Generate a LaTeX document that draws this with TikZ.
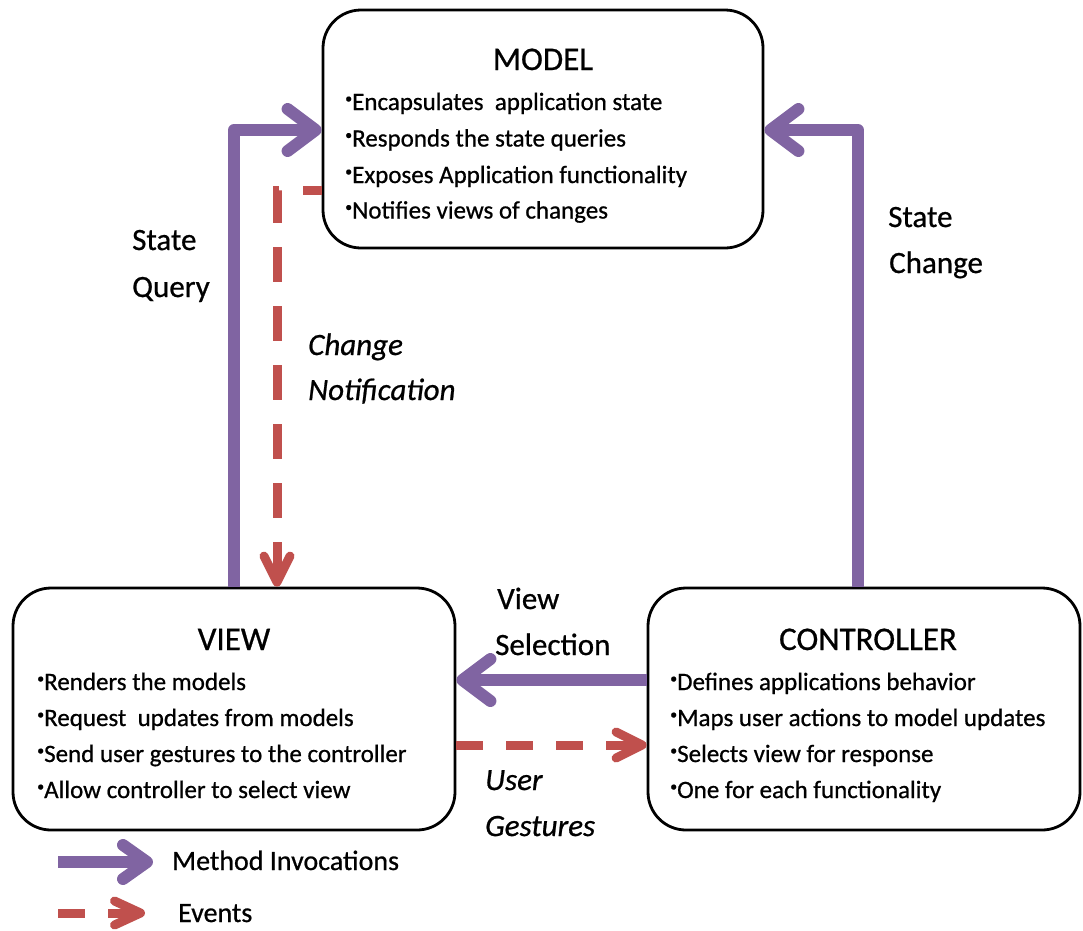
\documentclass[tikz,border=0pt]{standalone}
\usepackage{fontspec}
\setmainfont{Carlito}[FakeBold=0.7]
\usetikzlibrary{arrows.meta}

\definecolor{invoke}{HTML}{8064A2}
\definecolor{event}{HTML}{C0504D}

% small raised dot used in front of every list entry
\newcommand{\itemdot}{\raisebox{7pt}{\fontsize{14pt}{14pt}\selectfont •}}

\tikzset{
  box/.style={draw=black, line width=2.8pt, rounded corners=38pt, fill=white},
  boxtitle/.style={anchor=base, inner sep=0pt, font=\fontsize{33pt}{40pt}\selectfont},
  entry/.style={anchor=base west, inner sep=0pt, font=\fontsize{25pt}{30pt}\selectfont},
  lbl/.style={anchor=base west, inner sep=0pt, font=\fontsize{31pt}{38pt}\selectfont},
  ilbl/.style={lbl, font=\fontsize{31pt}{38pt}\selectfont\itshape},
  legendtext/.style={anchor=base west, inner sep=0pt, font=\fontsize{28pt}{34pt}\selectfont},
  method/.style={draw=invoke, line width=12pt, line join=round,
    -{Straight Barb[length=28pt, width=42pt, round]}},
  event/.style={draw=event, line width=9pt, dash pattern=on 35pt off 24pt,
    -{Straight Barb[length=26pt, width=26pt, round]}},
}

\begin{document}
\begin{tikzpicture}[x=1pt, y=-1pt]
\useasboundingbox (0,0) rectangle (1083,930);

% ---------- the three components ----------
\node[box, minimum width=440pt, minimum height=238pt] (model) at (543,129) {};
\node[box, minimum width=442pt, minimum height=242pt] (view)  at (234,709) {};
\node[box, minimum width=432pt, minimum height=242pt] (ctrl)  at (864,709) {};

\node[boxtitle] (modelT) at (543,70) {MODEL};
\node[entry] (m1) at (345,110) {\itemdot Encapsulates\ \ application state};
\node[entry] (m2) at (345,146.5) {\itemdot Responds the state queries};
\node[entry] (m3) at (345,183) {\itemdot Exposes Application functionality};
\node[entry] (m4) at (345,218.5) {\itemdot Notifies views of changes};

\node[boxtitle] (viewT) at (234,650) {VIEW};
\node[entry] (v1) at (37,690) {\itemdot Renders the models};
\node[entry] (v2) at (37,726) {\itemdot Request\ \ updates from models};
\node[entry] (v3) at (37,762) {\itemdot Send user gestures to the controller};
\node[entry] (v4) at (37,798) {\itemdot Allow controller to select view};

\node[boxtitle] (ctrlT) at (868,650) {CONTROLLER};
\node[entry] (c1) at (670,690) {\itemdot Defines applications behavior};
\node[entry] (c2) at (670,726) {\itemdot Maps user actions to model updates};
\node[entry] (c3) at (670,762) {\itemdot Selects view for response};
\node[entry] (c4) at (670,798) {\itemdot One for each functionality};

% ---------- connectors ----------
\coordinate (sqBend) at (234,130);
\coordinate (scBend) at (858,130);
\coordinate (cnBend) at (277,190);
\coordinate (vsLevel) at (0,680);
\coordinate (ugLevel) at (0,745);

\draw[method] (sqBend |- view.north) -- (sqBend) -- (sqBend -| model.west);
\draw[method] (scBend |- ctrl.north) -- (scBend) -- (scBend -| model.east);
\draw[event, dash phase=16pt] (cnBend -| model.west) -- (cnBend) -- (cnBend |- view.north);
\draw[method] (vsLevel -| ctrl.west) -- (vsLevel -| view.east);
\draw[event, dash pattern=on 27pt off 23pt] (ugLevel -| view.east) -- (ugLevel -| ctrl.west);

% ---------- connector labels ----------
\node[lbl] (sqA) at (132,250) {State};
\node[lbl] (sqB) at (132,297) {Query};
\node[lbl] (scA) at (888,227) {State};
\node[lbl] (scB) at (889,273) {Change};
\node[ilbl] (cnA) at (308,355) {Change};
\node[ilbl] (cnB) at (308,400) {Notification};
\node[lbl] (vsA) at (497,609) {View};
\node[lbl] (vsB) at (495,655) {Selection};
\node[ilbl] (ugA) at (485,790) {User};
\node[ilbl] (ugB) at (485,836) {Gestures};

% ---------- legend ----------
\coordinate (lgMa) at (58,862);
\coordinate (lgMb) at (153,862);
\coordinate (lgEa) at (58,913);
\coordinate (lgEb) at (145,913);
\draw[method, -{Straight Barb[length=24pt, width=34pt, round]}] (lgMa) -- (lgMb);
\draw[event, dash pattern=on 27pt off 23pt, -{Straight Barb[length=26pt, width=24pt, round]}] (lgEa) -- (lgEb);
\node[legendtext] (lgM) at (172,870) {Method Invocations};
\node[legendtext] (lgE) at (178,922) {Events};
\end{tikzpicture}
\end{document}
